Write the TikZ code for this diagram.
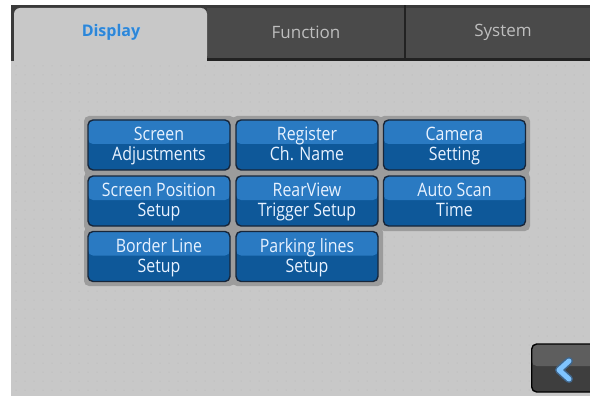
\documentclass[tikz,border=0pt]{standalone}
\usepackage{fontspec}
\setmainfont{Open Sans}
\newfontfamily\btnfont[FakeStretch=0.86]{Open Sans}
\usetikzlibrary{shapes.geometric}
\definecolor{bgwhite}{HTML}{FFFFFF}
\definecolor{content}{HTML}{C8C8C8}
\definecolor{dotc}{HTML}{B4B4B4}
\definecolor{barbg}{HTML}{3A3A3A}
\definecolor{tabbg}{HTML}{4A4A4A}
\definecolor{sep}{HTML}{222222}
\definecolor{frameg}{HTML}{9C9C9C}
\definecolor{btntop}{HTML}{2A7AC2}
\definecolor{btnbot}{HTML}{0E5899}
\definecolor{btnedge}{HTML}{17263A}
\definecolor{btntext}{HTML}{E8F2FF}
\definecolor{tabtext}{HTML}{BEBEBE}
\definecolor{activetab}{HTML}{2E86D6}
\definecolor{activeedge}{HTML}{9FD0FF}
\definecolor{chev}{HTML}{7FC4FF}
\definecolor{backtop}{HTML}{5E5E5E}
\definecolor{backbot}{HTML}{3E3E3E}
\newcommand{\twoline}[2]{\strut #1\\\strut #2}
\tikzset{
  menubtn/.style={rounded corners=5pt, draw=btnedge, line width=1.4pt,
    fill=btnbot,
    path picture={\fill[btntop] (path picture bounding box.north west) rectangle ([yshift=1pt]path picture bounding box.east);},
    minimum width=142pt, minimum height=50pt,
    text=btntext, font=\btnfont\fontsize{18.5}{18}\selectfont, align=center, inner sep=0pt},
  menutext/.style={text=btntext, font=\btnfont\fontsize{18.5}{18}\selectfont, align=center, inner sep=0pt},
  tablabel/.style={text=tabtext, font=\fontsize{17}{17}\selectfont},
}
\begin{document}
\begin{tikzpicture}[x=1pt,y=-1pt]
\useasboundingbox (0,0) rectangle (590,396);
\fill[bgwhite] (0,0) rectangle (590,396);
% content area
\fill[content] (11,5) rectangle (590,396);
% faint dots
\foreach \i in {0,...,63}{\foreach \j in {0,...,36}{
  \fill[dotc] (16+9*\i, 66+9*\j) circle (0.5pt);}}
% tab bar
\fill[barbg] (11,5) rectangle (590,61);
\fill[tabbg] (207,8) rectangle (404,59);
\fill[tabbg] (406,8) rectangle (590,59);
\fill[sep] (404,5) rectangle (406,60);
\fill[sep] (207,58) rectangle (590,61);
% active tab
\fill[content, rounded corners=6pt] (14,62) -- (14,8) -- (207,8) -- (207,62) -- cycle;
\fill[content] (14,55) rectangle (207,62);
\node[text=activeedge, font=\bfseries\fontsize{16}{16}\selectfont] at (111.6,32.6) {Display};
\node[text=activetab, font=\bfseries\fontsize{16}{16}\selectfont] (tabdisplay) at (111,32) {Display};
\node[tablabel] (tabfunction) at (306,32) {Function};
\node[tablabel] (tabsystem) at (503,32) {System};
% button frames
\foreach \x/\y in {88/120,236/120,383/120,88/176,236/176,383/176,88/231,236/231}{
  \fill[frameg, rounded corners=5pt] (\x-4,\y-4) rectangle (\x+147,\y+55);}
% buttons
\foreach \nm/\cx/\cy/\la/\lb in {
  b11/159/145/Screen/Adjustments,
  b12/307/145/Register/Ch. Name,
  b13/454.5/145/Camera/Setting,
  b21/159/201/Screen Position/Setup,
  b22/307/201/RearView/Trigger Setup,
  b23/454.5/201/Auto Scan/Time,
  b31/159/256.5/Border Line/Setup,
  b32/307/256.5/Parking lines/Setup}{
  \node[menubtn] (\nm) at (\cx,\cy) {};
  \node[menutext] (\nm-label) at ([yshift=-1.5pt]\nm.center) {\twoline{\la}{\lb}};
}
% back button
\node[rounded corners=5pt, draw=black, line width=1.4pt, fill=backbot,
  path picture={\fill[backtop] (path picture bounding box.north west) rectangle ([yshift=2pt]path picture bounding box.east);},
  minimum width=70pt, minimum height=48pt, anchor=west] (back) at (531,368) {};
\coordinate (chevtip) at (559,370);
\draw[line width=8pt, line cap=round, line join=round, draw=btnedge!60!chev]
  ([shift={(10,-9)}]chevtip) -- (chevtip) -- ([shift={(10,9)}]chevtip);
\draw[line width=5pt, line cap=round, line join=round, draw=chev]
  ([shift={(10,-9)}]chevtip) -- (chevtip) -- ([shift={(10,9)}]chevtip);
\end{tikzpicture}
\end{document}
